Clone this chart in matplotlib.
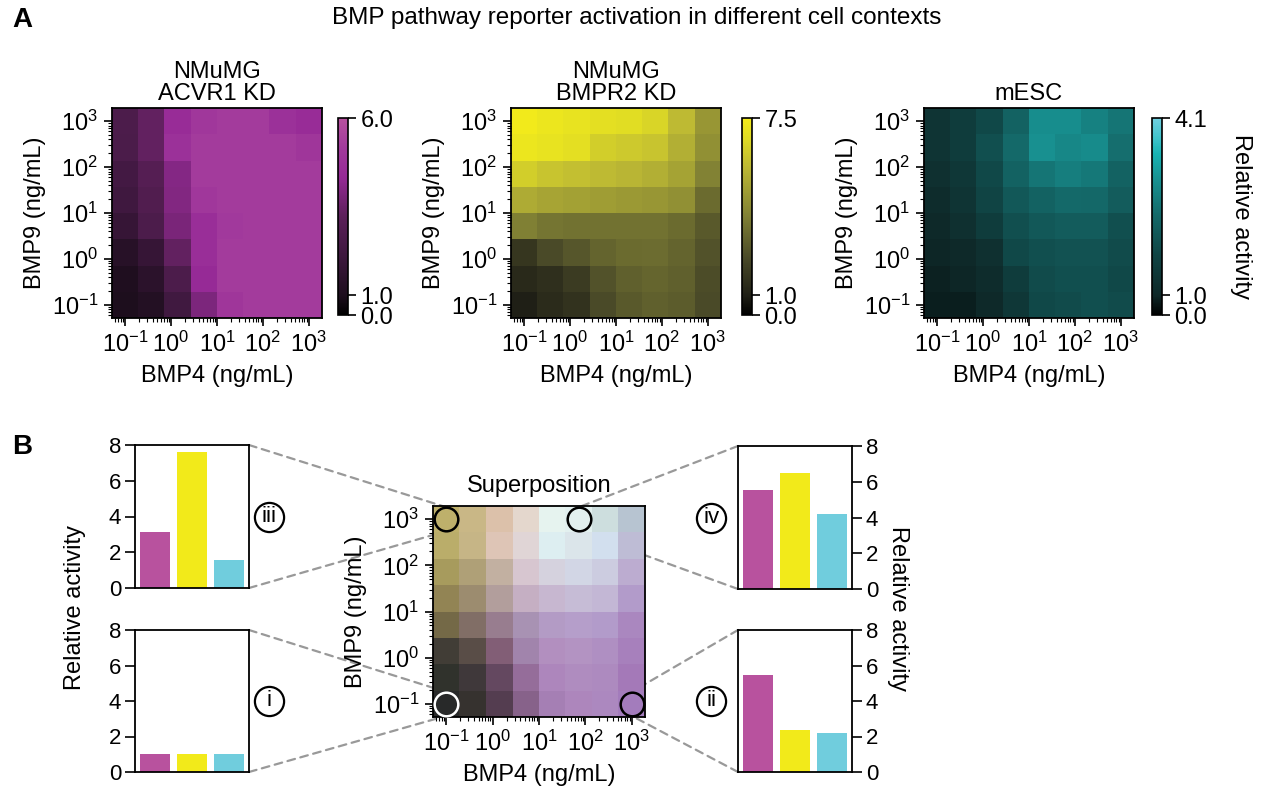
import numpy as np
import matplotlib
matplotlib.use("Agg")
import matplotlib.pyplot as plt
from matplotlib.colors import LinearSegmentedColormap, FuncNorm
from matplotlib.patches import ConnectionPatch
from matplotlib.transforms import offset_copy
from matplotlib.ticker import LogLocator, NullFormatter

plt.rcParams['font.family'] = ['Liberation Sans', 'DejaVu Sans']
plt.rcParams['mathtext.fontset'] = 'custom'
plt.rcParams['mathtext.rm'] = 'Liberation Sans'
plt.rcParams['mathtext.it'] = 'Liberation Sans:italic'
plt.rcParams['mathtext.bf'] = 'Liberation Sans:bold'

# ---------------- data ----------------
bmp4 = [0.1, 0.37, 1.4, 5.2, 19.3, 72, 268, 1000]   # ng/mL, columns
bmp9 = [0.1, 0.37, 1.4, 5.2, 19.3, 72, 268, 1000]   # ng/mL, rows (bottom -> top)

# rows: BMP9 low -> high, columns: BMP4 low -> high
acvr1_kd = [
    [1.00, 1.20, 2.20, 3.85, 4.95, 5.20, 5.20, 5.20],
    [1.05, 1.45, 2.65, 4.33, 5.20, 5.20, 5.20, 5.20],
    [1.33, 1.83, 3.35, 4.55, 5.20, 5.20, 5.20, 5.20],
    [1.83, 2.65, 3.80, 4.55, 5.10, 5.20, 5.20, 5.20],
    [2.17, 2.80, 3.95, 5.00, 5.20, 5.20, 5.20, 5.20],
    [2.30, 2.95, 4.00, 5.20, 5.20, 5.20, 5.20, 5.20],
    [2.60, 3.35, 4.70, 5.20, 5.20, 5.20, 5.20, 4.95],
    [2.65, 3.35, 4.45, 5.00, 5.20, 5.20, 4.70, 4.45],
]
bmpr2_kd = [
    [1.00, 1.36, 1.58, 2.37, 2.80, 3.00, 2.90, 2.37],
    [1.30, 1.50, 1.90, 2.60, 3.00, 3.15, 3.00, 2.44],
    [1.72, 2.37, 2.73, 3.10, 3.30, 3.35, 3.10, 2.60],
    [3.90, 3.60, 3.50, 3.50, 3.50, 3.50, 3.30, 2.80],
    [5.25, 5.05, 4.95, 4.80, 4.70, 4.60, 4.40, 3.30],
    [6.35, 6.05, 5.90, 5.75, 5.60, 5.40, 5.00, 3.95],
    [7.20, 7.05, 6.90, 6.35, 6.20, 6.05, 5.40, 4.40],
    [7.40, 7.20, 7.05, 6.90, 6.80, 6.55, 5.75, 4.60],
]
mesc = [
    [0.75, 0.75, 1.03, 1.38, 1.76, 1.83, 1.90, 1.83],
    [0.85, 0.95, 1.10, 1.50, 1.83, 1.90, 1.90, 1.76],
    [0.95, 1.03, 1.20, 1.76, 1.90, 1.97, 1.97, 1.83],
    [1.03, 1.20, 1.50, 1.90, 2.07, 2.14, 2.14, 1.90],
    [1.10, 1.30, 1.69, 2.07, 2.27, 2.40, 2.37, 2.14],
    [1.20, 1.38, 1.76, 2.27, 2.58, 2.72, 2.62, 2.27],
    [1.30, 1.50, 1.90, 2.40, 3.00, 2.85, 2.92, 2.48],
    [1.30, 1.50, 1.76, 2.27, 2.95, 2.95, 2.78, 2.58],
]
titles = ["NMuMG\nACVR1 KD", "NMuMG\nBMPR2 KD", "mESC"]
cbar_max = [6.0, 7.5, 4.1]
sup_max = [6.0, 7.5, 3.0]     # scale of each channel in the superposition

# bar insets: (ACVR1 KD, BMPR2 KD, mESC)
bar_iii = [3.15, 7.6, 1.55]
bar_i = [1.0, 1.0, 1.0]
bar_iv = [5.55, 6.5, 4.2]
bar_ii = [5.45, 2.35, 2.2]
bar_colors = ['#b8529e', '#f2ea1a', '#70cddd']

# zoomed points on the superposition map
pt_labels = ['iii', 'iv', 'i', 'ii']
pt_bmp4 = [0.1, 72, 0.1, 1000]
pt_bmp9 = [1000, 1000, 0.1, 0.1]
pt_edge = ['black', 'black', 'white', 'black']

# ---------------- colormaps ----------------
cm_mag = LinearSegmentedColormap.from_list('mag', [
    (0, '#000000'), (0.1, '#1e0e1e'), (0.3, '#3e183e'), (0.5, '#5c205a'),
    (0.7, '#962a96'), (0.85, '#a23a9c'), (1.0, '#b8529f')])
cm_yel = LinearSegmentedColormap.from_list('yel', [
    (0, '#000000'), (0.1, '#202016'), (0.29, '#4a4a28'), (0.5, '#808034'),
    (0.75, '#bcb834'), (0.9, '#e0dc24'), (1.0, '#f4ec1a')])
cm_cya = LinearSegmentedColormap.from_list('cya', [
    (0, '#000000'), (0.1, '#0e2828'), (0.3, '#104444'), (0.5, '#146868'),
    (0.7, '#189494'), (0.82, '#18b4b4'), (0.9, '#40c4cc'), (1.0, '#70cfe0')])
cmaps = [cm_mag, cm_yel, cm_cya]


def make_norm(vmax):
    fwd = lambda v: np.interp(v, [0, 1, vmax], [0, 0.1, 1])
    inv = lambda f: np.interp(f, [0, 0.1, 1], [0, 1, vmax])
    return FuncNorm((fwd, inv), vmin=0, vmax=vmax)


def edges(c):
    lc = np.log10(c)
    mid = (lc[:-1] + lc[1:]) / 2
    e = np.concatenate([[2 * lc[0] - mid[0]], mid, [2 * lc[-1] - mid[-1]]])
    return 10 ** e


xe, ye = edges(bmp4), edges(bmp9)
FS = 17


def style_log_axes(ax):
    ax.set_xscale('log')
    ax.set_yscale('log')
    ax.set_xlim(xe[0], xe[-1])
    ax.set_ylim(ye[0], ye[-1])
    for axis in (ax.xaxis, ax.yaxis):
        axis.set_major_locator(LogLocator(base=10, numticks=20))
        axis.set_minor_locator(LogLocator(base=10, subs=np.arange(2, 10), numticks=100))
        axis.set_minor_formatter(NullFormatter())
    ax.tick_params(which='major', direction='out', length=6, width=1.2, labelsize=FS, pad=4)
    ax.tick_params(which='minor', direction='out', length=3, width=0.8)
    for s in ax.spines.values():
        s.set_linewidth(1.3)
    ax.set_xlabel("BMP4 (ng/mL)", fontsize=FS, labelpad=6)
    ax.set_ylabel("BMP9 (ng/mL)", fontsize=FS, labelpad=4)


fig = plt.figure(figsize=(12.66, 8.01), dpi=100)
W, H = 1266.0, 801.0


def px_axes(x0, y0, x1, y1):
    return fig.add_axes([x0 / W, 1 - y1 / H, (x1 - x0) / W, (y1 - y0) / H])


# ---------------- panel A ----------------
heat_x = [112, 511, 924]
cbar_x = [338, 742, 1152]
maps = [acvr1_kd, bmpr2_kd, mesc]
for k in range(3):
    ax = px_axes(heat_x[k], 108, heat_x[k] + 210, 318)
    norm = make_norm(cbar_max[k])
    m = ax.pcolormesh(xe, ye, np.array(maps[k]), cmap=cmaps[k], norm=norm)
    style_log_axes(ax)
    ax.set_title(titles[k], fontsize=FS, pad=6, linespacing=1.0)
    cax = px_axes(cbar_x[k], 118, cbar_x[k] + 10, 315)
    cb = fig.colorbar(m, cax=cax)
    cb.set_ticks([0, 1, cbar_max[k]])
    cb.set_ticklabels(['%.1f' % t for t in [0, 1, cbar_max[k]]])
    cb.ax.minorticks_off()
    cb.ax.tick_params(direction='out', length=6, width=1.2, labelsize=FS, pad=3)
    cb.outline.set_linewidth(1.2)
    if k == 2:
        cb.set_label("Relative activity", fontsize=FS, rotation=270, labelpad=32)

fig.text(637 / W, 1 - 18 / H, "BMP pathway reporter activation in different cell contexts",
         ha='center', va='center', fontsize=17.5)
fig.text(12 / W, 1 - 20 / H, "A", fontsize=20, fontweight='bold', va='center', ha='left')
fig.text(12 / W, 1 - 447 / H, "B", fontsize=20, fontweight='bold', va='center', ha='left')

# ---------------- panel B: superposition ----------------
ax_sup = px_axes(433, 506, 645, 717)
fm, fy, fc = [make_norm(sup_max[k])(np.array(maps[k])) for k in range(3)]
rgb = np.stack([((fm + fy) / 2) ** 0.8,
                ((fy + fc) / 2) ** 0.75,
                ((fm + fc) / 2) ** 0.75], axis=-1)
rgb = np.clip(rgb, 0, 1)
ax_sup.pcolormesh(xe, ye, rgb)
style_log_axes(ax_sup)
ax_sup.set_title("Superposition", fontsize=FS, pad=10)
for x, y, ec in zip(pt_bmp4, pt_bmp9, pt_edge):
    ax_sup.plot([x], [y], 'o', ms=17, mfc='none', mec=ec, mew=1.8, clip_on=False, zorder=5)

# ---------------- bar insets ----------------
bar_boxes = {
    'iii': (135, 445, 249, 588, 'left', bar_iii),
    'i': (135, 630, 249, 772, 'left', bar_i),
    'iv': (738, 446, 852, 589, 'right', bar_iv),
    'ii': (738, 630, 852, 772, 'right', bar_ii),
}
bar_axes = {}
for lab, (x0, y0, x1, y1, side, vals) in bar_boxes.items():
    ax = px_axes(x0, y0, x1, y1)
    ax.bar([0, 1, 2], vals, width=0.8, color=bar_colors, edgecolor='none')
    ax.set_xlim(-0.54, 2.54)
    ax.set_ylim(0, 8)
    ax.set_yticks([0, 2, 4, 6, 8])
    ax.set_xticks([])
    for s in ax.spines.values():
        s.set_linewidth(1.3)
    if side == 'right':
        ax.yaxis.tick_right()
        cx = -0.235
    else:
        cx = 1.175
    ax.tick_params(axis='y', direction='out', length=7, width=1.2, labelsize=16, pad=3)
    ax.plot([cx], [0.5], 'o', transform=ax.transAxes, ms=21, mfc='white', mec='black',
            mew=1.6, clip_on=False)
    ax.text(cx, 0.5, lab, transform=ax.transAxes, ha='center', va='center', fontsize=16)
    bar_axes[lab] = (ax, side)

fig.text(75 / W, 1 - 608 / H, "Relative activity", rotation=90, ha='center', va='center', fontsize=FS)
fig.text(898 / W, 1 - 608 / H, "Relative activity", rotation=270, ha='center', va='center', fontsize=FS)

# dashed connectors from insets to zoomed points
r = 12
for lab, x, y in zip(pt_labels, pt_bmp4, pt_bmp9):
    ax, side = bar_axes[lab]
    xa = 1 if side == 'left' else 0
    for ya, dy in ((1, r), (0, -r)):
        con = ConnectionPatch(xyA=(xa, ya), coordsA=ax.transAxes,
                              xyB=(x, y), coordsB=offset_copy(ax_sup.transData, x=0, y=dy, units='dots'),
                              color='#999999', lw=1.6, linestyle=(0, (3.5, 2.5)), zorder=0)
        fig.add_artist(con)

fig.savefig("out.png", dpi=100)
